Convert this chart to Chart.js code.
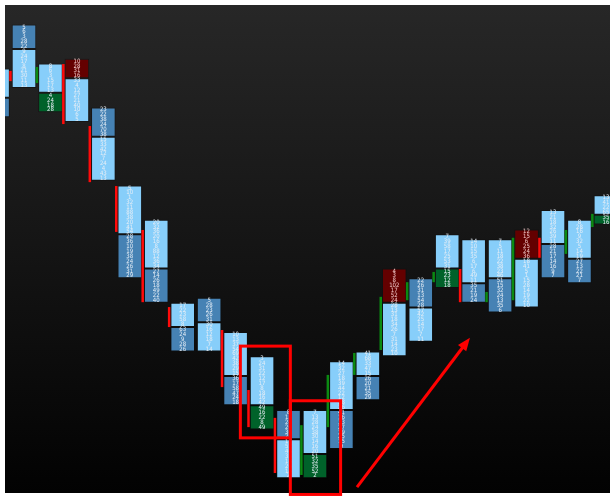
<!DOCTYPE html>
<html>
<head>
<meta charset="utf-8">
<script src="https://cdn.jsdelivr.net/npm/chart.js@4.4.1/dist/chart.umd.min.js"></script>
<style>
html, body { margin: 0; padding: 0; background: #fff; }
</style>
</head>
<body>
<canvas id="myChart" width="614" height="498"></canvas>
<script>
// bars, top to bottom in price ticks
let highs = [87, 96, 88, 89, 79, 63, 56, 39, 40, 33, 28, 17, 17, 27, 29, 46, 44, 53, 52, 52, 54, 58, 56, 61]
let mids  = [81, 91, 82, 85, 73, 53, 46, 34, 35, 24, 18, 11, 8, 17, 24, 39, 38, 46, 43, 44, 48, 51, 48, 57]
let lows  = [77, 83, 78, 76, 64, 44, 39, 29, 29, 18, 13, 3, 3, 9, 19, 28, 31, 42, 39, 37, 38, 44, 43, 55]
// L light, S steel, R sell imbalance, G buy imbalance
let upperKind = ['L','S','L','R','S','L','L','L','S','L','L','S','L','L','L','R','S','L','L','L','R','L','L','L']
let lowerKind = ['S','L','G','L','L','S','S','S','L','S','G','L','G','S','S','L','L','G','S','S','L','S','S','G']

// delta strip left of each bar
let deltaFrom = [null, 84.4, 84.0, 75.6, 63.7, 53.5, 39.1, 34.0, null, 21.7, 13.5, 4.1, 3.7, 13.5, 24.2, 29.3, 39.5, 43.2, 39.1, 39.1, 39.5, 48.2, 49.0, 54.5]
let deltaTo   = [null, 86.5, 87.3, 87.9, 75.2, 62.9, 53.9, 38.1, null, 33.4, 21.1, 15.4, 13.9, 24.2, 28.7, 40.2, 43.2, 45.3, 45.9, 41.2, 52.3, 52.3, 53.9, 57.2]
let deltaSide = ['', 'sell', 'buy', 'sell', 'sell', 'sell', 'sell', 'sell', '', 'sell', 'sell', 'sell', 'buy', 'buy', 'buy', 'buy', 'buy', 'buy', 'sell', 'buy', 'buy', 'sell', 'buy', 'buy']

// volume at each price, top to bottom
let volumes = [
    [12,8,21,5,17,9,14,22,6,11],
    [5,6,3,28,22,9,24,17,8,21,30,11,13],
    [8,6,3,15,17,13,4,24,18,28],
    [10,28,31,16,33,4,12,27,21,40,10,6,5],
    [23,22,38,24,70,38,15,33,42,12,7,24,4,43,13],
    [5,10,1,32,11,88,38,20,41,54,28,36,10,19,38,24,26,31,29],
    [20,32,36,20,16,8,88,12,36,34,27,14,26,18,49,22,40],
    [17,22,23,58,8,63,24,9,28,26],
    [5,28,23,26,31,30,16,12,18,7,14],
    [10,13,37,54,69,42,38,29,15,36,17,58,47,24,18],
    [3,24,31,22,12,17,8,18,16,42,49,16,22,8,49],
    [8,13,24,20,36,27,17,52,46,35,18,26,14,2],
    [7,13,28,24,38,30,14,16,20,51,32,35,52,2],
    [14,32,27,18,39,44,22,12,38,26,41,16,33,27,19,25,15,9],
    [41,68,33,47,15,26,20,21,35,29],
    [4,3,8,102,17,52,24,28,13,31,18,34,26,7,31,14,23,10],
    [22,26,31,13,54,28,57,42,25,14,17,7,11],
    [7,39,58,17,25,53,31,15,23,12,18],
    [14,10,15,35,6,17,6,49,11,35,21,19,24],
    [7,5,11,18,22,38,23,46,51,15,32,24,13,35,6],
    [12,15,6,25,24,36,18,41,5,1,15,28,14,19,22,10],
    [13,21,18,32,26,39,11,28,21,17,14,16,9,7],
    [8,28,16,9,32,5,14,19,27,13,22,21,7],
    [13,41,22,65,35,16]
]

// hand drawn marks, in chart units [x1, y1, x2, y2]
let boxes = [[9.18, 30.1, 11.07, 11.3], [11.07, 18.9, 12.97, -0.3]]
let arrow = [13.59, 1.2, 17.86, 31.8]

const kindColor = { L: '#87cefa', S: '#4682b4', R: '#640000', G: '#00622a' }

let ctx = document.getElementById('myChart').getContext('2d');

const bg = {
    id: 'bg',
    beforeDraw(chart) {
        const c = chart.ctx, a = chart.chartArea;
        const g = c.createLinearGradient(0, a.top, 0, a.bottom);
        g.addColorStop(0, '#272727');
        g.addColorStop(1, '#020202');
        c.save();
        c.fillStyle = g;
        c.fillRect(a.left, a.top, a.right - a.left, a.bottom - a.top);
        c.restore();
    }
}

const footprint = {
    id: 'footprint',
    afterDatasetsDraw(chart) {
        const c = chart.ctx, a = chart.chartArea, ys = chart.scales.y;
        const meta = chart.getDatasetMeta(0);
        c.save();
        c.beginPath();
        c.rect(a.left, a.top, a.right - a.left, a.bottom - a.top);
        c.clip();
        meta.data.forEach((bar, i) => {
            const left = bar.x - bar.width / 2;
            if (deltaSide[i]) {
                const t = ys.getPixelForValue(deltaTo[i]);
                const b = ys.getPixelForValue(deltaFrom[i]);
                c.fillStyle = deltaSide[i] === 'buy' ? '#0b8a12' : '#ff0a0a';
                c.fillRect(left - 2.5, t, 2.5, b - t);
            }
            c.font = '6px "DejaVu Sans Condensed", "DejaVu Sans"';
            c.textAlign = 'center';
            c.textBaseline = 'middle';
            volumes[i].forEach((v, k) => {
                const lvl = highs[i] - k - 0.5;
                c.fillStyle = lvl > mids[i] && upperKind[i] === 'R' ? '#f3c9c9' : '#e6eef6';
                c.fillText(String(v), bar.x, ys.getPixelForValue(lvl));
            });
        });
        c.restore();
    },
    afterDraw(chart) {
        const c = chart.ctx, xs = chart.scales.x, ys = chart.scales.y;
        c.save();
        c.strokeStyle = '#ff0000';
        c.lineWidth = 3;
        boxes.forEach(b => {
            const x1 = xs.getPixelForValue(b[0]), y1 = ys.getPixelForValue(b[1]);
            const x2 = xs.getPixelForValue(b[2]), y2 = ys.getPixelForValue(b[3]);
            c.strokeRect(x1, y1, x2 - x1, y2 - y1);
        });
        const ax1 = xs.getPixelForValue(arrow[0]), ay1 = ys.getPixelForValue(arrow[1]);
        const ax2 = xs.getPixelForValue(arrow[2]), ay2 = ys.getPixelForValue(arrow[3]);
        const ang = Math.atan2(ay2 - ay1, ax2 - ax1);
        const head = 14;
        c.beginPath();
        c.moveTo(ax1, ay1);
        c.lineTo(ax2 - Math.cos(ang) * head * 0.8, ay2 - Math.sin(ang) * head * 0.8);
        c.stroke();
        c.fillStyle = '#ff0000';
        c.beginPath();
        c.moveTo(ax2, ay2);
        c.lineTo(ax2 - head * Math.cos(ang - 0.38), ay2 - head * Math.sin(ang - 0.38));
        c.lineTo(ax2 - head * Math.cos(ang + 0.38), ay2 - head * Math.sin(ang + 0.38));
        c.closePath();
        c.fill();
        c.restore();
    }
}

const upperData = highs.map((h, i) => ({ x: i, y: [mids[i], h] }))
const lowerData = lows.map((l, i) => ({ x: i, y: [l, mids[i]] }))

let myChart = new Chart(ctx, {
    type: 'bar',
    data: {
        datasets: [{
                label: 'upper',
                data: upperData,
                backgroundColor: upperKind.map(k => kindColor[k]),
                borderColor: 'rgba(15, 15, 15, 0.55)',
                borderWidth: 1,
                borderSkipped: false,
                grouped: false,
                categoryPercentage: 0.93,
                barPercentage: 1
            }, {
                label: 'lower',
                data: lowerData,
                backgroundColor: lowerKind.map(k => kindColor[k]),
                borderColor: 'rgba(15, 15, 15, 0.55)',
                borderWidth: 1,
                borderSkipped: false,
                grouped: false,
                categoryPercentage: 0.93,
                barPercentage: 1
            }]
    },
    options: {
        responsive: false,
        animation: false,
        devicePixelRatio: 1,
        layout: { padding: { left: 5, top: 5, right: 4, bottom: 5 } },
        scales: {
            x: { type: 'linear', min: 0.2817, max: 23.155, offset: false, display: false },
            y: { min: 0, max: 100, display: false }
        },
        plugins: {
            legend: { display: false },
            tooltip: { enabled: false }
        }
    },
    plugins: [bg, footprint]
});
</script>
</body>
</html>
